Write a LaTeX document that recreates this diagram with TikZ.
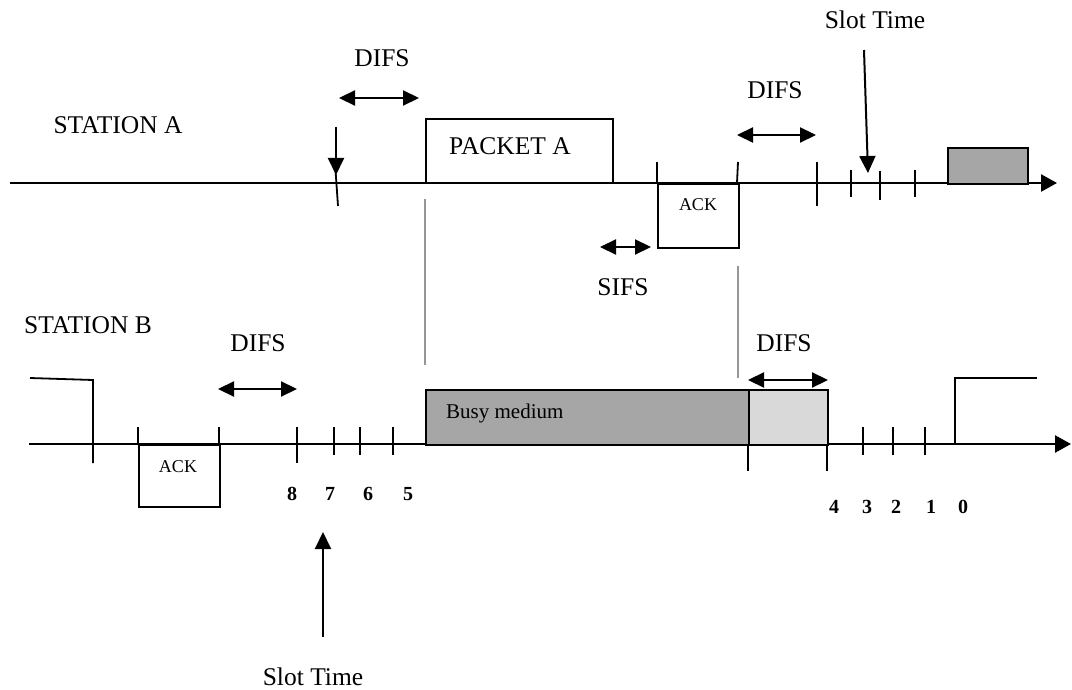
\documentclass[tikz,border=0pt]{standalone}
\usepackage{fontspec}
\setmainfont{Liberation Serif}
\usetikzlibrary{arrows.meta}
\definecolor{busyfill}{RGB}{166,166,166}
\definecolor{difsfill}{RGB}{217,217,217}
\definecolor{guidegray}{RGB}{150,150,150}
\begin{document}
\begin{tikzpicture}[x=1pt,y=-1pt,
  timeline/.style={line width=2.4pt,-{Triangle[length=16pt,width=17pt]}},
  tickmark/.style={line width=1.8pt},
  interval/.style={line width=2.2pt,{Triangle[length=16pt,width=15pt]}-{Triangle[length=16pt,width=15pt]}},
  pointer/.style={line width=2pt,-{Triangle[length=17pt,width=16pt]}},
  boxframe/.style={draw,line width=1.8pt,inner sep=0pt,anchor=north west},
  guide/.style={line width=1.3pt,guidegray},
  steppath/.style={line width=1.8pt},
  big/.style={font=\fontsize{25.5}{28}\selectfont,inner sep=0pt},
  small/.style={font=\fontsize{18}{20}\selectfont,inner sep=0pt},
  mid/.style={font=\fontsize{21}{24}\selectfont,inner sep=0pt},
  digit/.style={font=\fontsize{20}{22}\selectfont\bfseries,inner sep=0pt}
]
\useasboundingbox (0,0) rectangle (1072,690);

% ---------------- Station A ----------------
\node[big] (staA) at (118,125) {STATION A};
\coordinate (a0) at (10,183);
\coordinate (a1) at (1057,183);
\draw[timeline] (a0) -- (a1);

% arrival of the frame and first DIFS
\coordinate (arrTop) at (336,127);
\coordinate (arrTip) at (336,175);
\coordinate (arrTickT) at (335,163);
\coordinate (arrTickB) at (338,206);
\draw[tickmark] (arrTickT) -- (arrTickB);
\draw[pointer] (arrTop) -- (arrTip);
\node[big] (difsA1) at (382,58) {DIFS};
\coordinate (difsA1l) at (339,98);
\coordinate (difsA1r) at (419,98);
\draw[interval] (difsA1l) -- (difsA1r);

% data frame
\node[boxframe,minimum width=187pt,minimum height=64pt] (pktA) at (425,118) {};
\node[big] (pktAtxt) at (510,146) {PACKET A};

% acknowledgement received after SIFS
\node[boxframe,minimum width=81pt,minimum height=64pt] (ackA) at (657,183) {};
\node[small] (ackAtxt) at (698,205) {ACK};
\coordinate (ackAlT) at (657,162);
\coordinate (ackAlB) at (657,183);
\coordinate (ackArT) at (738,162);
\coordinate (ackArB) at (737,183);
\draw[tickmark] (ackAlT) -- (ackAlB);
\draw[tickmark] (ackArT) -- (ackArB);
\coordinate (sifsl) at (600,247);
\coordinate (sifsr) at (651,247);
\draw[interval] (sifsl) -- (sifsr);
\node[big] (sifs) at (623,287) {SIFS};

% second DIFS and backoff slots
\node[big] (difsA2) at (775,90) {DIFS};
\coordinate (difsA2l) at (737,135);
\coordinate (difsA2r) at (816,135);
\draw[interval] (difsA2l) -- (difsA2r);
\foreach \n/\x/\t/\b in {s1/817/162/206, s2/851/170/197, s3/880/171/200, s4/915/170/197}{
  \coordinate (\n t) at (\x,\t);
  \coordinate (\n b) at (\x,\b);
  \draw[tickmark] (\n t) -- (\n b);
}
\node[big] (slotA) at (875,20) {Slot Time};
\coordinate (slotAfrom) at (864,50);
\coordinate (slotAto) at (868,173);
\draw[pointer] (slotAfrom) -- (slotAto);

% next frame
\node[boxframe,fill=busyfill,minimum width=80pt,minimum height=36pt] (nextA) at (947,147) {};

% ---------------- guides between stations ----------------
\coordinate (g1t) at (425,199);
\coordinate (g1b) at (425,365);
\coordinate (g2t) at (738,266);
\coordinate (g2b) at (738,378);
\draw[guide] (g1t) -- (g1b);
\draw[guide] (g2t) -- (g2b);

% ---------------- Station B ----------------
\node[big] (staB) at (88,325) {STATION B};
\coordinate (b0) at (29,444);
\coordinate (b1) at (1071,444);
\draw[timeline] (b0) -- (b1);

% end of previous transmission
\coordinate (stL1) at (30,378);
\coordinate (stL2) at (93,380);
\coordinate (stL3) at (93,463);
\draw[steppath] (stL1) -- (stL2) -- (stL3);

% acknowledgement sent
\node[boxframe,minimum width=81pt,minimum height=62pt] (ackB) at (138,444) {};
\node[small] (ackBtxt) at (178,467) {ACK};
\coordinate (ackBlT) at (138,427);
\coordinate (ackBlB) at (138,444);
\coordinate (ackBrT) at (219,427);
\coordinate (ackBrB) at (219,444);
\draw[tickmark] (ackBlT) -- (ackBlB);
\draw[tickmark] (ackBrT) -- (ackBrB);

% DIFS and first backoff slots
\node[big] (difsB1) at (258,343) {DIFS};
\coordinate (difsB1l) at (218,389);
\coordinate (difsB1r) at (297,389);
\draw[interval] (difsB1l) -- (difsB1r);
\foreach \n/\x/\b in {u1/297/463, u2/334/455, u3/360/455, u4/393/455}{
  \coordinate (\n t) at (\x,427);
  \coordinate (\n b) at (\x,\b);
  \draw[tickmark] (\n t) -- (\n b);
}
\node[digit] (d8) at (292,494) {8};
\node[digit] (d7) at (330,494) {7};
\node[digit] (d6) at (368,494) {6};
\node[digit] (d5) at (408,494) {5};

% medium busy, then DIFS
\node[boxframe,fill=busyfill,minimum width=323pt,minimum height=55pt] (busy) at (425,389) {};
\node[mid,anchor=west] (busytxt) at (446,413) {Busy medium};
\node[boxframe,fill=difsfill,minimum width=79pt,minimum height=55pt] (difsbox) at (748,389) {};
\coordinate (v1t) at (748,444);
\coordinate (v1b) at (748,471);
\coordinate (v2t) at (827,444);
\coordinate (v2b) at (827,471);
\draw[tickmark] (v1t) -- (v1b);
\draw[tickmark] (v2t) -- (v2b);
\node[big] (difsB2) at (784,343) {DIFS};
\coordinate (difsB2l) at (748,380);
\coordinate (difsB2r) at (828,380);
\draw[interval] (difsB2l) -- (difsB2r);

% remaining backoff slots
\foreach \n/\x in {w1/863, w2/893, w3/925}{
  \coordinate (\n t) at (\x,427);
  \coordinate (\n b) at (\x,455);
  \draw[tickmark] (\n t) -- (\n b);
}
\node[digit] (d4) at (834,507) {4};
\node[digit] (d3) at (867,507) {3};
\node[digit] (d2) at (896,507) {2};
\node[digit] (d1) at (931,507) {1};
\node[digit] (d0) at (963,507) {0};

% transmission of station B
\coordinate (stR1) at (955,444);
\coordinate (stR2) at (955,378);
\coordinate (stR3) at (1037,378);
\draw[steppath] (stR1) -- (stR2) -- (stR3);

% slot time marker
\coordinate (slotBfrom) at (323,637);
\coordinate (slotBto) at (323,532);
\draw[pointer] (slotBfrom) -- (slotBto);
\node[big,anchor=base,text depth=0pt] (slotB) at (313,685) {Slot Time};
\end{tikzpicture}
\end{document}
